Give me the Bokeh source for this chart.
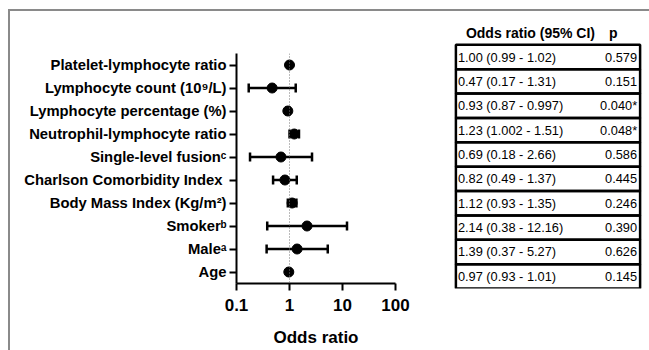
from bokeh.plotting import figure
from bokeh.layouts import row, column
from bokeh.models import ColumnDataSource, FactorRange, Range1d, Whisker, TeeHead, Span
from bokeh.core.properties import value
from bokeh.embed import file_html
from bokeh.resources import INLINE

# ---- data (top to bottom) ----
labels = [
    "Platelet-lymphocyte ratio",
    "Lymphocyte count (10\u2079/L)",
    "Lymphocyte percentage (%)",
    "Neutrophil-lymphocyte ratio",
    "Single-level fusion\u1d9c",
    "Charlson Comorbidity Index ",
    "Body Mass Index (Kg/m\u00b2)",
    "Smoker\u1d47",
    "Male\u1d43",
    "Age",
]
odds = [1.00, 0.47, 0.93, 1.23, 0.69, 0.82, 1.12, 2.14, 1.39, 0.97]
ci_low = [0.99, 0.17, 0.87, 1.002, 0.18, 0.49, 0.93, 0.38, 0.37, 0.93]
ci_high = [1.02, 1.31, 0.997, 1.51, 2.66, 1.37, 1.35, 12.16, 5.27, 1.01]
or_text = [
    "1.00 (0.99 - 1.02)",
    "0.47 (0.17 - 1.31)",
    "0.93 (0.87 - 0.997)",
    "1.23 (1.002 - 1.51)",
    "0.69 (0.18 - 2.66)",
    "0.82 (0.49 - 1.37)",
    "1.12 (0.93 - 1.35)",
    "2.14 (0.38 - 12.16)",
    "1.39 (0.37 - 5.27)",
    "0.97 (0.93 - 1.01)",
]
p_text = ["0.579", "0.151", "0.040*", "0.048*", "0.586", "0.445", "0.246", "0.390", "0.626", "0.145"]
x_ticks = [0.1, 1, 10, 100]
x_tick_labels = ["0.1", "1", "10", "100"]
header_or = "Odds ratio (95% CI)"
header_p = "p"
x_title = "Odds ratio"

FONT = "Liberation Sans"

# ---- forest plot ----
factors = list(reversed(labels))
src = ColumnDataSource(dict(label=labels, odds=odds, lo=ci_low, hi=ci_high))

p = figure(width=435, height=339, x_axis_type="log", title=None,
           x_range=Range1d(0.1, 100), y_range=FactorRange(factors=factors, range_padding=0),
           output_backend="svg", toolbar_location=None,
           min_border_left=226, min_border_right=50, min_border_top=42, min_border_bottom=67)
p.outline_line_color = None
p.grid.grid_line_color = None

p.add_layout(Span(location=1, dimension="height", line_color="#777777",
                  line_dash="1 2", line_width=1))

wh = Whisker(source=src, base="label", lower="lo", upper="hi", dimension="width",
             line_color="black", line_width=2.5,
             lower_head=TeeHead(size=9, line_width=2.5, line_color="black"),
             upper_head=TeeHead(size=9, line_width=2.5, line_color="black"))
p.add_layout(wh)
p.scatter(x="odds", y="label", source=src, size=10, color="black")

xa = p.xaxis[0]
xa.ticker = x_ticks
xa.major_label_overrides = {t: l for t, l in zip(x_ticks, x_tick_labels)}
xa.minor_tick_line_color = None
xa.axis_line_width = 2
xa.axis_line_color = "black"
xa.major_tick_line_width = 2
xa.major_tick_line_color = "black"
xa.major_tick_in = 0
xa.major_tick_out = 7
xa.major_label_text_font = FONT
xa.major_label_text_font_style = "bold"
xa.major_label_text_font_size = "17px"
xa.major_label_text_color = "black"
xa.major_label_standoff = 8
xa.axis_label = x_title
xa.axis_label_text_font = FONT
xa.axis_label_text_font_style = "bold"
xa.axis_label_text_font_size = "17px"
xa.axis_label_text_color = "black"
xa.axis_label_standoff = 14

ya = p.yaxis[0]
ya.axis_line_width = 2
ya.axis_line_color = "black"
ya.major_tick_line_width = 2
ya.major_tick_line_color = "black"
ya.major_tick_in = 0
ya.major_tick_out = 7
ya.major_label_text_font = FONT
ya.major_label_text_font_style = "bold"
ya.major_label_text_font_size = "14.8px"
ya.major_label_text_color = "black"
ya.major_label_standoff = 3

# ---- table ----
HDR = " "
tfactors = factors + [HDR]
t = figure(width=204, height=339, x_range=Range1d(-0.013, 1.013), title=None,
           y_range=FactorRange(factors=tfactors, range_padding=0),
           output_backend="svg", toolbar_location=None,
           min_border_left=8, min_border_right=7, min_border_top=9, min_border_bottom=62)
t.outline_line_color = None
t.grid.grid_line_color = None
t.axis.visible = False

tsrc = ColumnDataSource(dict(label=labels, ortxt=or_text, ptxt=p_text,
                             xc=[0.5] * len(labels), xl=[0.0] * len(labels), xr=[1.0] * len(labels)))
t.rect(x="xc", y="label", width=1.0, height=1.0, source=tsrc,
       fill_color="white", line_color=None)
t.rect(x="xc", y="label", width=1.0, height=1.0, source=tsrc,
       fill_color=None, line_color="black", line_width=2.5)
t.text(x="xl", y="label", text="ortxt", source=tsrc, x_offset=2, text_color="black",
       text_font=value(FONT), text_font_size="12.8px", text_baseline="middle", text_align="left")
t.text(x="xr", y="label", text="ptxt", source=tsrc, x_offset=-3, text_color="black",
       text_font=value(FONT), text_font_size="12.8px", text_baseline="middle", text_align="right")
t.text(x=[0.0], y=[HDR], text=[header_or], x_offset=10, text_color="black",
       text_font=value(FONT), text_font_style="bold", text_font_size="14px",
       text_baseline="middle", text_align="left")
t.text(x=[1.0], y=[HDR], text=[header_p], x_offset=-31, text_color="black",
       text_font=value(FONT), text_font_style="bold", text_font_size="14px",
       text_baseline="middle", text_align="left")

layout = row(column(p), column(t),
             styles={"border-top": "2px solid #8a8a8a", "border-left": "2px solid #8a8a8a",
                     "margin-left": "8px", "margin-top": "9px"})

open("out.html", "w").write(file_html(layout, INLINE))
